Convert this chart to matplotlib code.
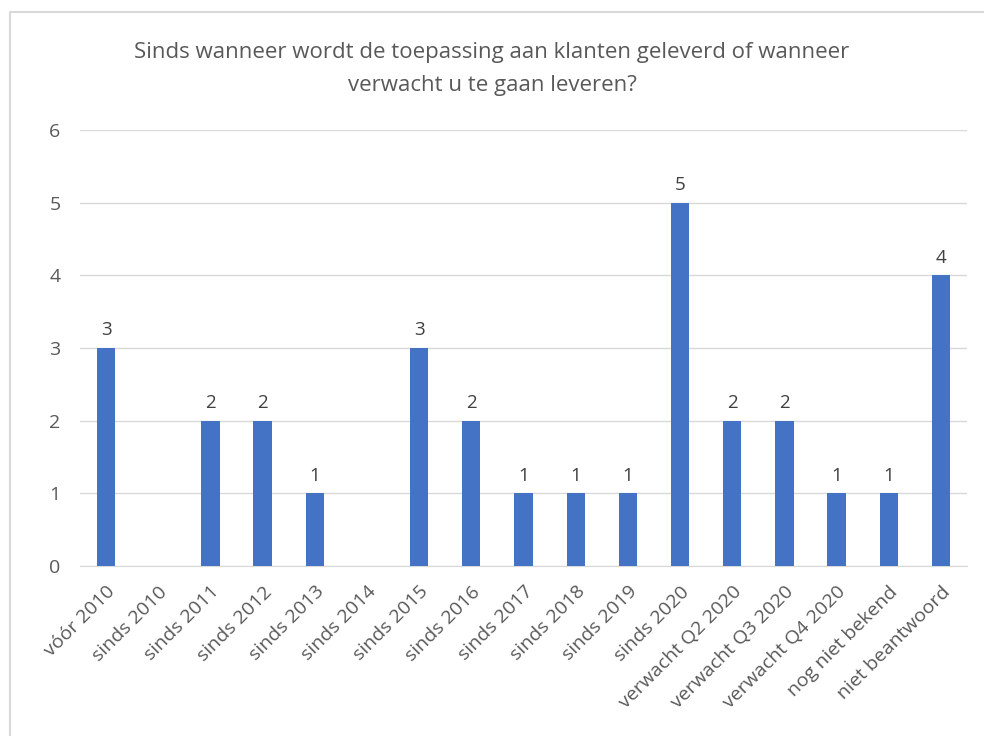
import matplotlib.pyplot as plt
from matplotlib.patches import Rectangle

categories = [
    "vóór 2010", "sinds 2010", "sinds 2011", "sinds 2012", "sinds 2013",
    "sinds 2014", "sinds 2015", "sinds 2016", "sinds 2017", "sinds 2018",
    "sinds 2019", "sinds 2020", "verwacht Q2 2020", "verwacht Q3 2020",
    "verwacht Q4 2020", "nog niet bekend", "niet beantwoord",
]
counts = [3, 0, 2, 2, 1, 0, 3, 2, 1, 1, 1, 5, 2, 2, 1, 1, 4]
title = "Sinds wanneer wordt de toepassing aan klanten geleverd of wanneer\nverwacht u te gaan leveren?"

plt.rcParams["font.family"] = ["Open Sans", "DejaVu Sans"]
text_color = "#595959"

fig = plt.figure(figsize=(9.84, 7.36), dpi=100)
fig.patches.append(Rectangle((10 / 984, -0.1), 1.2, 1 - 12 / 736 + 0.1,
                             transform=fig.transFigure, fill=False,
                             edgecolor="#D9D9D9", linewidth=1.5))
ax = fig.add_axes([80 / 984, 1 - 566 / 736, 887 / 984, 436 / 736])

x = range(len(categories))
bars = ax.bar(x, counts, width=0.35, color="#4472C4", zorder=3)
for xi, v in zip(x, counts):
    if v > 0:
        ax.text(xi, v + 0.12, str(v), ha="center", va="bottom",
                fontsize=13.5, color="#404040")

ax.set_xlim(-0.5, len(categories) - 0.5)
ax.set_ylim(0, 6)
ax.set_yticks(range(7))
ax.grid(axis="y", color="#D9D9D9", linewidth=1, zorder=0)
for s in ["top", "right", "left"]:
    ax.spines[s].set_visible(False)
ax.spines["bottom"].set_color("#D9D9D9")
ax.tick_params(axis="both", length=0, labelsize=14, colors=text_color, pad=12)
ax.tick_params(axis="y", pad=14)
ax.set_xticks(list(x))
ax.set_xticklabels(categories, rotation=45, ha="right", rotation_mode="anchor")

fig.text(0.5, 1 - 69 / 736, title, ha="center", va="center",
         fontsize=16, color=text_color, linespacing=1.75)

fig.savefig("out.png", dpi=100)
